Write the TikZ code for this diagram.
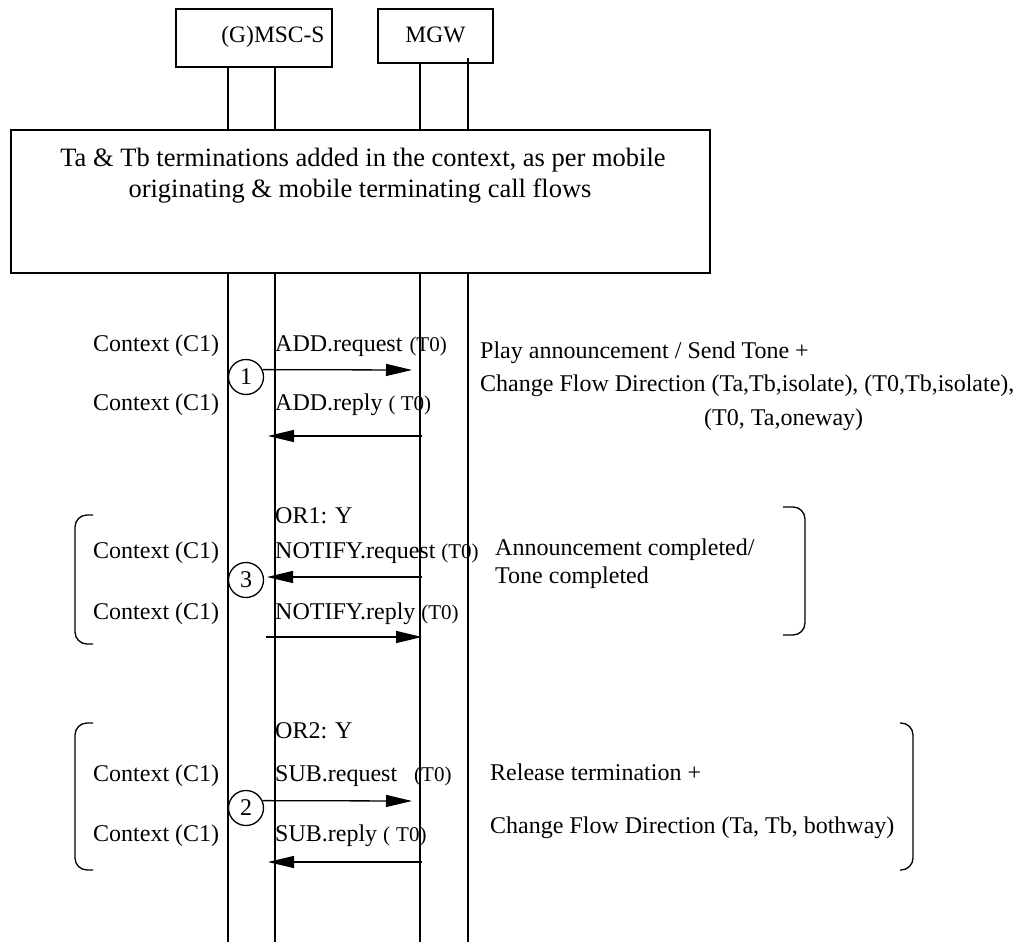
\documentclass[tikz,border=0pt]{standalone}
\usepackage{fontspec}
\setmainfont{Liberation Serif}
\usetikzlibrary{arrows.meta}
\newcommand{\smt}{\fontsize{21}{25}\selectfont}
\begin{document}
\begin{tikzpicture}[x=1pt,y=-1pt,
  lbl/.style={font=\fontsize{24}{28}\selectfont, inner sep=0pt, anchor=base west},
  hdr/.style={font=\fontsize{23.5}{28}\selectfont, inner sep=0pt, anchor=base},
  bxt/.style={font=\fontsize{26.5}{31}\selectfont, inner sep=0pt, anchor=base},
  box/.style={draw, line width=1.8pt, inner sep=0pt},
  life/.style={line width=1.3pt},
  msg/.style={line width=1.3pt, -{Triangle[length=26pt,width=12pt]}},
  num/.style={draw, circle, line width=1.3pt, minimum size=35pt, inner sep=0pt, font=\fontsize{24}{28}\selectfont},
  brk/.style={line width=1.3pt, rounded corners=12pt}]
\useasboundingbox (0,0) rectangle (1031,942);

% entity boxes
\node[box, minimum width=156pt, minimum height=58pt] (msc) at (254,38) {};
\node[hdr] (mscl) at (273,43) {(G)MSC-S};
\node[box, minimum width=115pt, minimum height=54pt] (mgw) at (435.5,36) {};
\node[hdr] (mgwl) at (435.5,43) {MGW};

% context box
\node[box, minimum width=699pt, minimum height=143pt] (ctx) at (360.5,201.5) {};
\node[bxt] (ctx1) at (363,166) {Ta \& Tb terminations added in the context, as per mobile};
\node[bxt] (ctx2) at (360,197) {originating \& mobile terminating call flows};

% lifelines
\coordinate (L1) at (228,0);
\coordinate (L2) at (275,0);
\coordinate (L3) at (420,0);
\coordinate (L4) at (468,0);
\coordinate (bot) at (0,942);
\draw[life] (L1 |- msc.south) -- (L1 |- ctx.north);
\draw[life] (L2 |- msc.south) -- (L2 |- ctx.north);
\draw[life] (L3 |- mgw.south) -- (L3 |- ctx.north);
\draw[life] (468,58) -- (L4 |- ctx.north);
\draw[life] (L1 |- ctx.south) -- (L1 |- bot);
\draw[life] (L2 |- ctx.south) -- (L2 |- bot);
\draw[life] (L3 |- ctx.south) -- (L3 |- bot);
\draw[life] (L4 |- ctx.south) -- (L4 |- bot);

% section 1
\node[lbl] (cA1) at (93,351) {Context (C1)};
\node[lbl] (mA1) at (275,351) {ADD.request\hspace{7pt}{\smt (T0)}};
\node[lbl] (cA2) at (93,410) {Context (C1)};
\node[lbl] (mA2) at (275,410) {ADD.reply {\smt ( T0)}};
\node[num] (n1) at (246,377) {1};
\coordinate (e1) at (412,370);
\draw[msg] (n1.24) -- (e1);
\coordinate (s2) at (422,436);
\coordinate (e2) at (268,436);
\draw[msg] (s2) -- (e2);
\node[lbl] (rA1) at (480,358) {Play announcement / Send Tone +};
\node[lbl] (rA2) at (480,391) {Change Flow Direction (Ta,Tb,isolate), (T0,Tb,isolate),};
\node[lbl] (rA3) at (704,425) {(T0, Ta,oneway)};

% section 2
\node[lbl] (or1) at (275,523) {OR1: Y};
\draw[brk] (93,515) -- (75,515) -- (75,644) -- (93,644);
\node[lbl] (cB1) at (93,558) {Context (C1)};
\node[lbl] (mB1) at (275,558) {NOTIFY.request {\smt (T0)}};
\node[lbl] (cB2) at (93,619) {Context (C1)};
\node[lbl] (mB2) at (275,619) {NOTIFY.reply {\smt (T0)}};
\node[num] (n3) at (246,580) {3};
\coordinate (s3) at (422,577);
\coordinate (e3) at (267,577);
\draw[msg] (s3) -- (e3);
\coordinate (s4) at (266,637);
\coordinate (e4) at (422,637);
\draw[msg] (s4) -- (e4);
\node[lbl] (rB1) at (495,555) {Announcement completed/};
\node[lbl] (rB2) at (495,583) {Tone completed};
\draw[brk] (783,507) -- (805,507) -- (805,635) -- (783,635);

% section 3
\node[lbl] (or2) at (275,738) {OR2: Y};
\draw[brk] (93,723) -- (75,723) -- (75,870) -- (93,870);
\node[lbl] (cC1) at (93,781) {Context (C1)};
\node[lbl] (mC1) at (275,781) {SUB.request\hspace{17pt}{\smt (T0)}};
\node[lbl] (cC2) at (93,841) {Context (C1)};
\node[lbl] (mC2) at (275,841) {SUB.reply {\smt (\hspace{6pt}T0)}};
\node[num] (n2) at (246,808) {2};
\coordinate (e5) at (412,801);
\draw[msg] (n2.24) -- (e5);
\coordinate (s6) at (422,862);
\coordinate (e6) at (268,862);
\draw[msg] (s6) -- (e6);
\node[lbl] (rC1) at (490,780) {Release termination +};
\node[lbl] (rC2) at (490,833) {Change Flow Direction (Ta, Tb, bothway)};
\draw[brk] (900,723) -- (913,723) -- (913,870) -- (900,870);
\end{tikzpicture}
\end{document}
